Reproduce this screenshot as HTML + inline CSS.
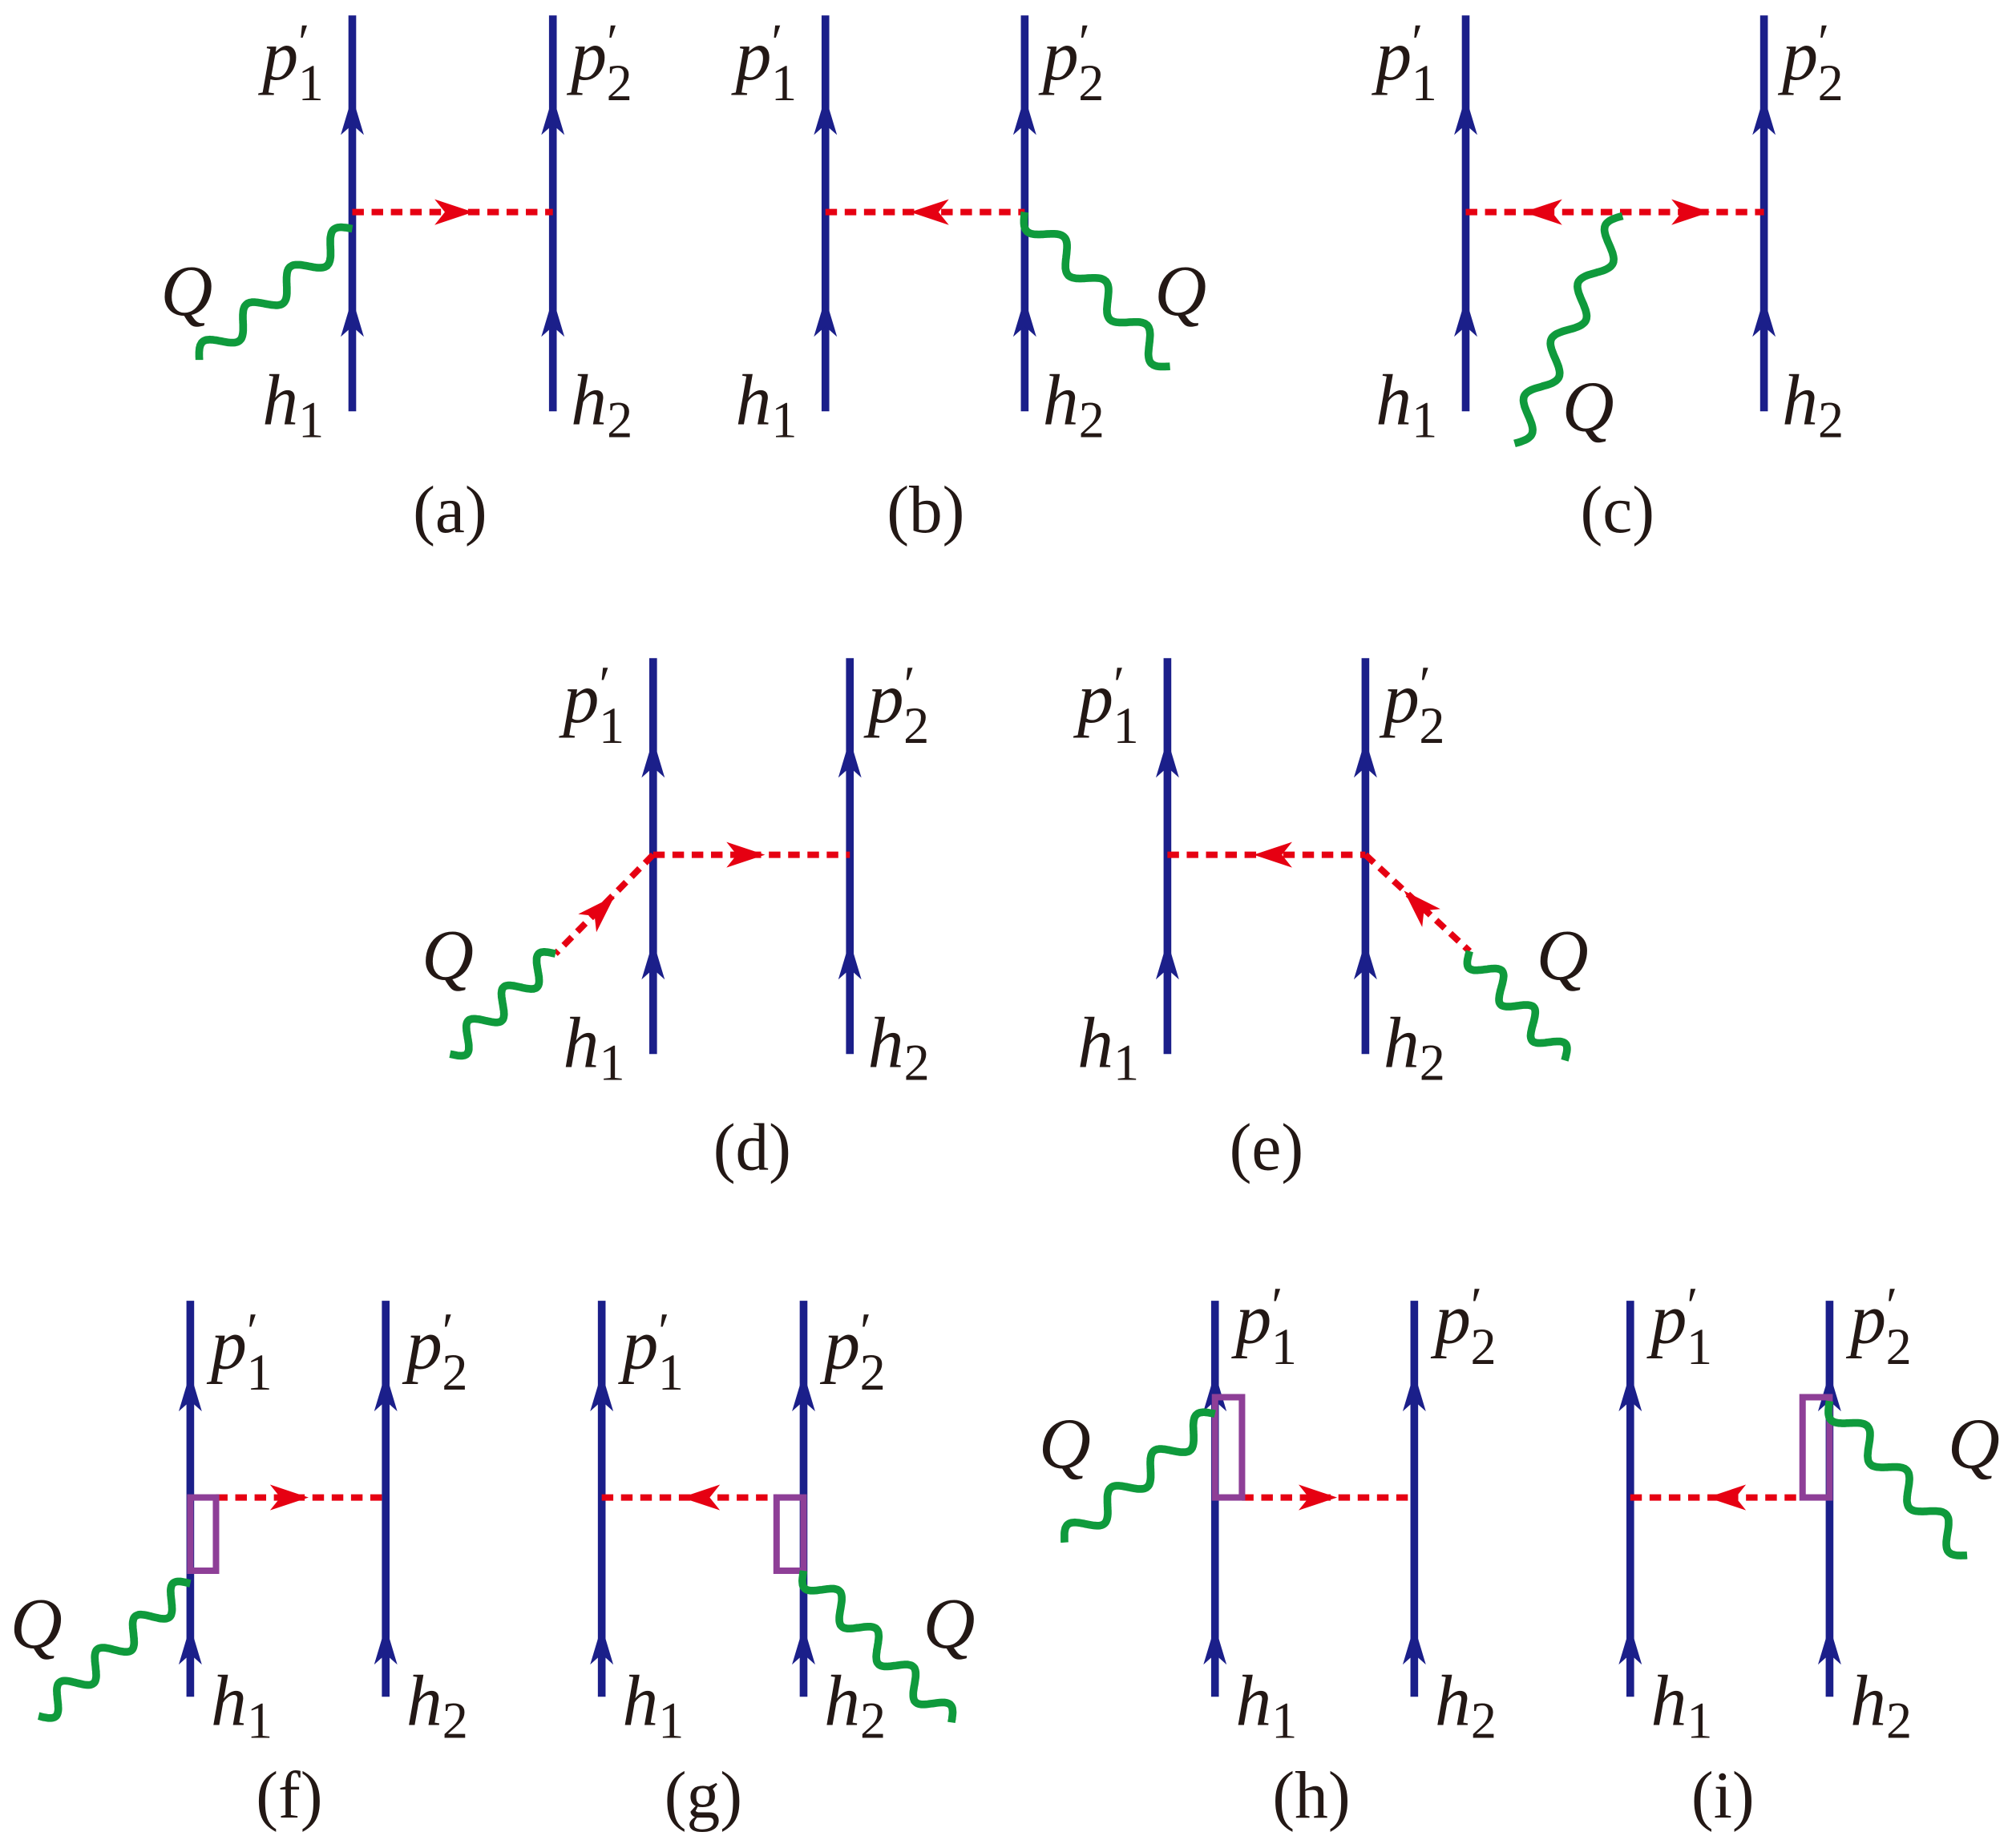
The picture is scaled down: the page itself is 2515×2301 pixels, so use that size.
<!DOCTYPE html>
<html><head><meta charset="utf-8"><style>
html,body{margin:0;padding:0;background:#fff;}
svg{display:block}
text{font-family:"Liberation Serif",serif;fill:#231815;}
.m{font-style:italic;font-size:56px}
.s{font-style:normal;font-size:40px}
.c{font-size:52px}
</style></head><body>
<svg id="s" width="2515" height="2301" viewBox="0 0 1568 1434.6" xmlns="http://www.w3.org/2000/svg"></svg>
<script>
const S=document.getElementById('s');let h='';
const B='#1b1f8a',R='#e60012',G='#0f9a3c',P='#8e3f97';
function vline(x,y1,y2,tips){h+=`<line x1="${x}" y1="${y1}" x2="${x}" y2="${y2}" stroke="${B}" stroke-width="6"/>`;
 tips.forEach(t=>{h+=`<path d="M${x} ${t} L${x-9} ${t+30} L${x} ${t+22} L${x+9} ${t+30}Z" fill="${B}"/>`;});}
function dash(x1,y1,x2,y2){h+=`<line x1="${x1}" y1="${y1}" x2="${x2}" y2="${y2}" stroke="${R}" stroke-width="5" stroke-dasharray="9,6"/>`;}
function rarrow(x,y,ang){
 h+=`<path transform="translate(${x},${y}) rotate(${ang})" d="M0 0 L-30 -10 L-22 0 L-30 10Z" fill="${R}"/>`;}
function wave(x1,y1,x2,y2,n){const dx=x2-x1,dy=y2-y1,L=Math.hypot(dx,dy),ux=dx/L,uy=dy/L,px=-uy,py=ux;let d='';
 for(let i=0;i<=200;i++){const t=i/200,a=9*Math.sin(t*n*2*Math.PI);const x=x1+dx*t+px*a,y=y1+dy*t+py*a;d+=(i?'L':'M')+x.toFixed(1)+' '+y.toFixed(1);}
 h+=`<path d="${d}" fill="none" stroke="${G}" stroke-width="6"/>`;}
function rect(x,y,w,hh){h+=`<rect x="${x}" y="${y}" width="${w}" height="${hh}" fill="none" stroke="${P}" stroke-width="5"/>`;}
function lab(x,y,b,sub,prime){h+=`<text class="m" x="${x}" y="${y}">${b}${prime?'<tspan class="s" dy="-16">′</tspan><tspan class="s" dx="-9" dy="32">'+sub+'</tspan>':'<tspan class="s" dy="10">'+sub+'</tspan>'}</text>`;}
function q(x,y){h+=`<text class="m" x="${x}" y="${y}">Q</text>`;}
function cap(x,y,t){h+=`<text class="c" x="${x}" y="${y}" text-anchor="middle">(${t})</text>`;}
function pair(x1,x2,y1,y2,tips,ly){vline(x1,y1,y2,tips);vline(x2,y1,y2,tips);
 lab(x1-70,ly[0],'p','1',1);lab(x2+14,ly[0],'p','2',1);lab(x1-70,ly[1],'h','1');lab(x2+14,ly[1],'h','2');}
pair(274,430,12,320,[75,232],[62,330]);dash(274,165,430,165);rarrow(368,165,0);wave(274,178,155,280,3.5);q(125,245);cap(350,414,'a');
pair(642,797,12,320,[75,232],[62,330]);dash(642,165,797,165);rarrow(708,165,180);wave(797,165,910,285,3.5);q(898,245);cap(720,414,'b');
pair(1140,1372,12,320,[75,232],[62,330]);dash(1140,165,1372,165);rarrow(1185,165,180);rarrow(1330,165,0);wave(1262,168,1178,345,4);q(1215,335);cap(1258,414,'c');
pair(508,661,512,820,[575,732],[562,830]);dash(508,665,661,665);rarrow(595,665,0);dash(508,665,432,742);rarrow(478,697,-45);wave(432,742,350,820,3);q(328,762);cap(585,910,'d');
pair(908,1062,512,820,[575,732],[562,830]);dash(908,665,1062,665);rarrow(975,665,180);dash(1062,665,1143,740);rarrow(1092,693,-135);wave(1143,740,1217,825,3);q(1195,762);cap(985,910,'e');
function pair3(x1,x2,lyTop){vline(x1,1012,1320,[1068,1265]);vline(x2,1012,1320,[1068,1265]);
 lab(x1+16,lyTop,'p','1',1);lab(x2+16,lyTop,'p','2',1);lab(x1+16,1342,'h','1');lab(x2+16,1342,'h','2');}
pair3(148,300,1065);dash(168,1165,300,1165);rarrow(240,1165,0);rect(148,1165,20,57);wave(148,1232,30,1335,4);q(8,1282);cap(225,1414,'f');
pair3(468,625,1065);dash(468,1165,604,1165);rarrow(530,1165,180);rect(604,1165,21,57);wave(625,1222,740,1340,4);q(718,1282);cap(547,1414,'g');
pair3(945,1100,1045);dash(966,1165,1100,1165);rarrow(1040,1165,0);rect(945,1087,21,78);wave(945,1100,828,1200,3.5);q(808,1142);cap(1020,1414,'h');
pair3(1268,1423,1045);dash(1268,1165,1402,1165);rarrow(1328,1165,180);rect(1402,1087,21,78);wave(1423,1090,1530,1210,3.5);q(1515,1142);cap(1340,1414,'i');
S.innerHTML=h;
</script>
</body></html>
